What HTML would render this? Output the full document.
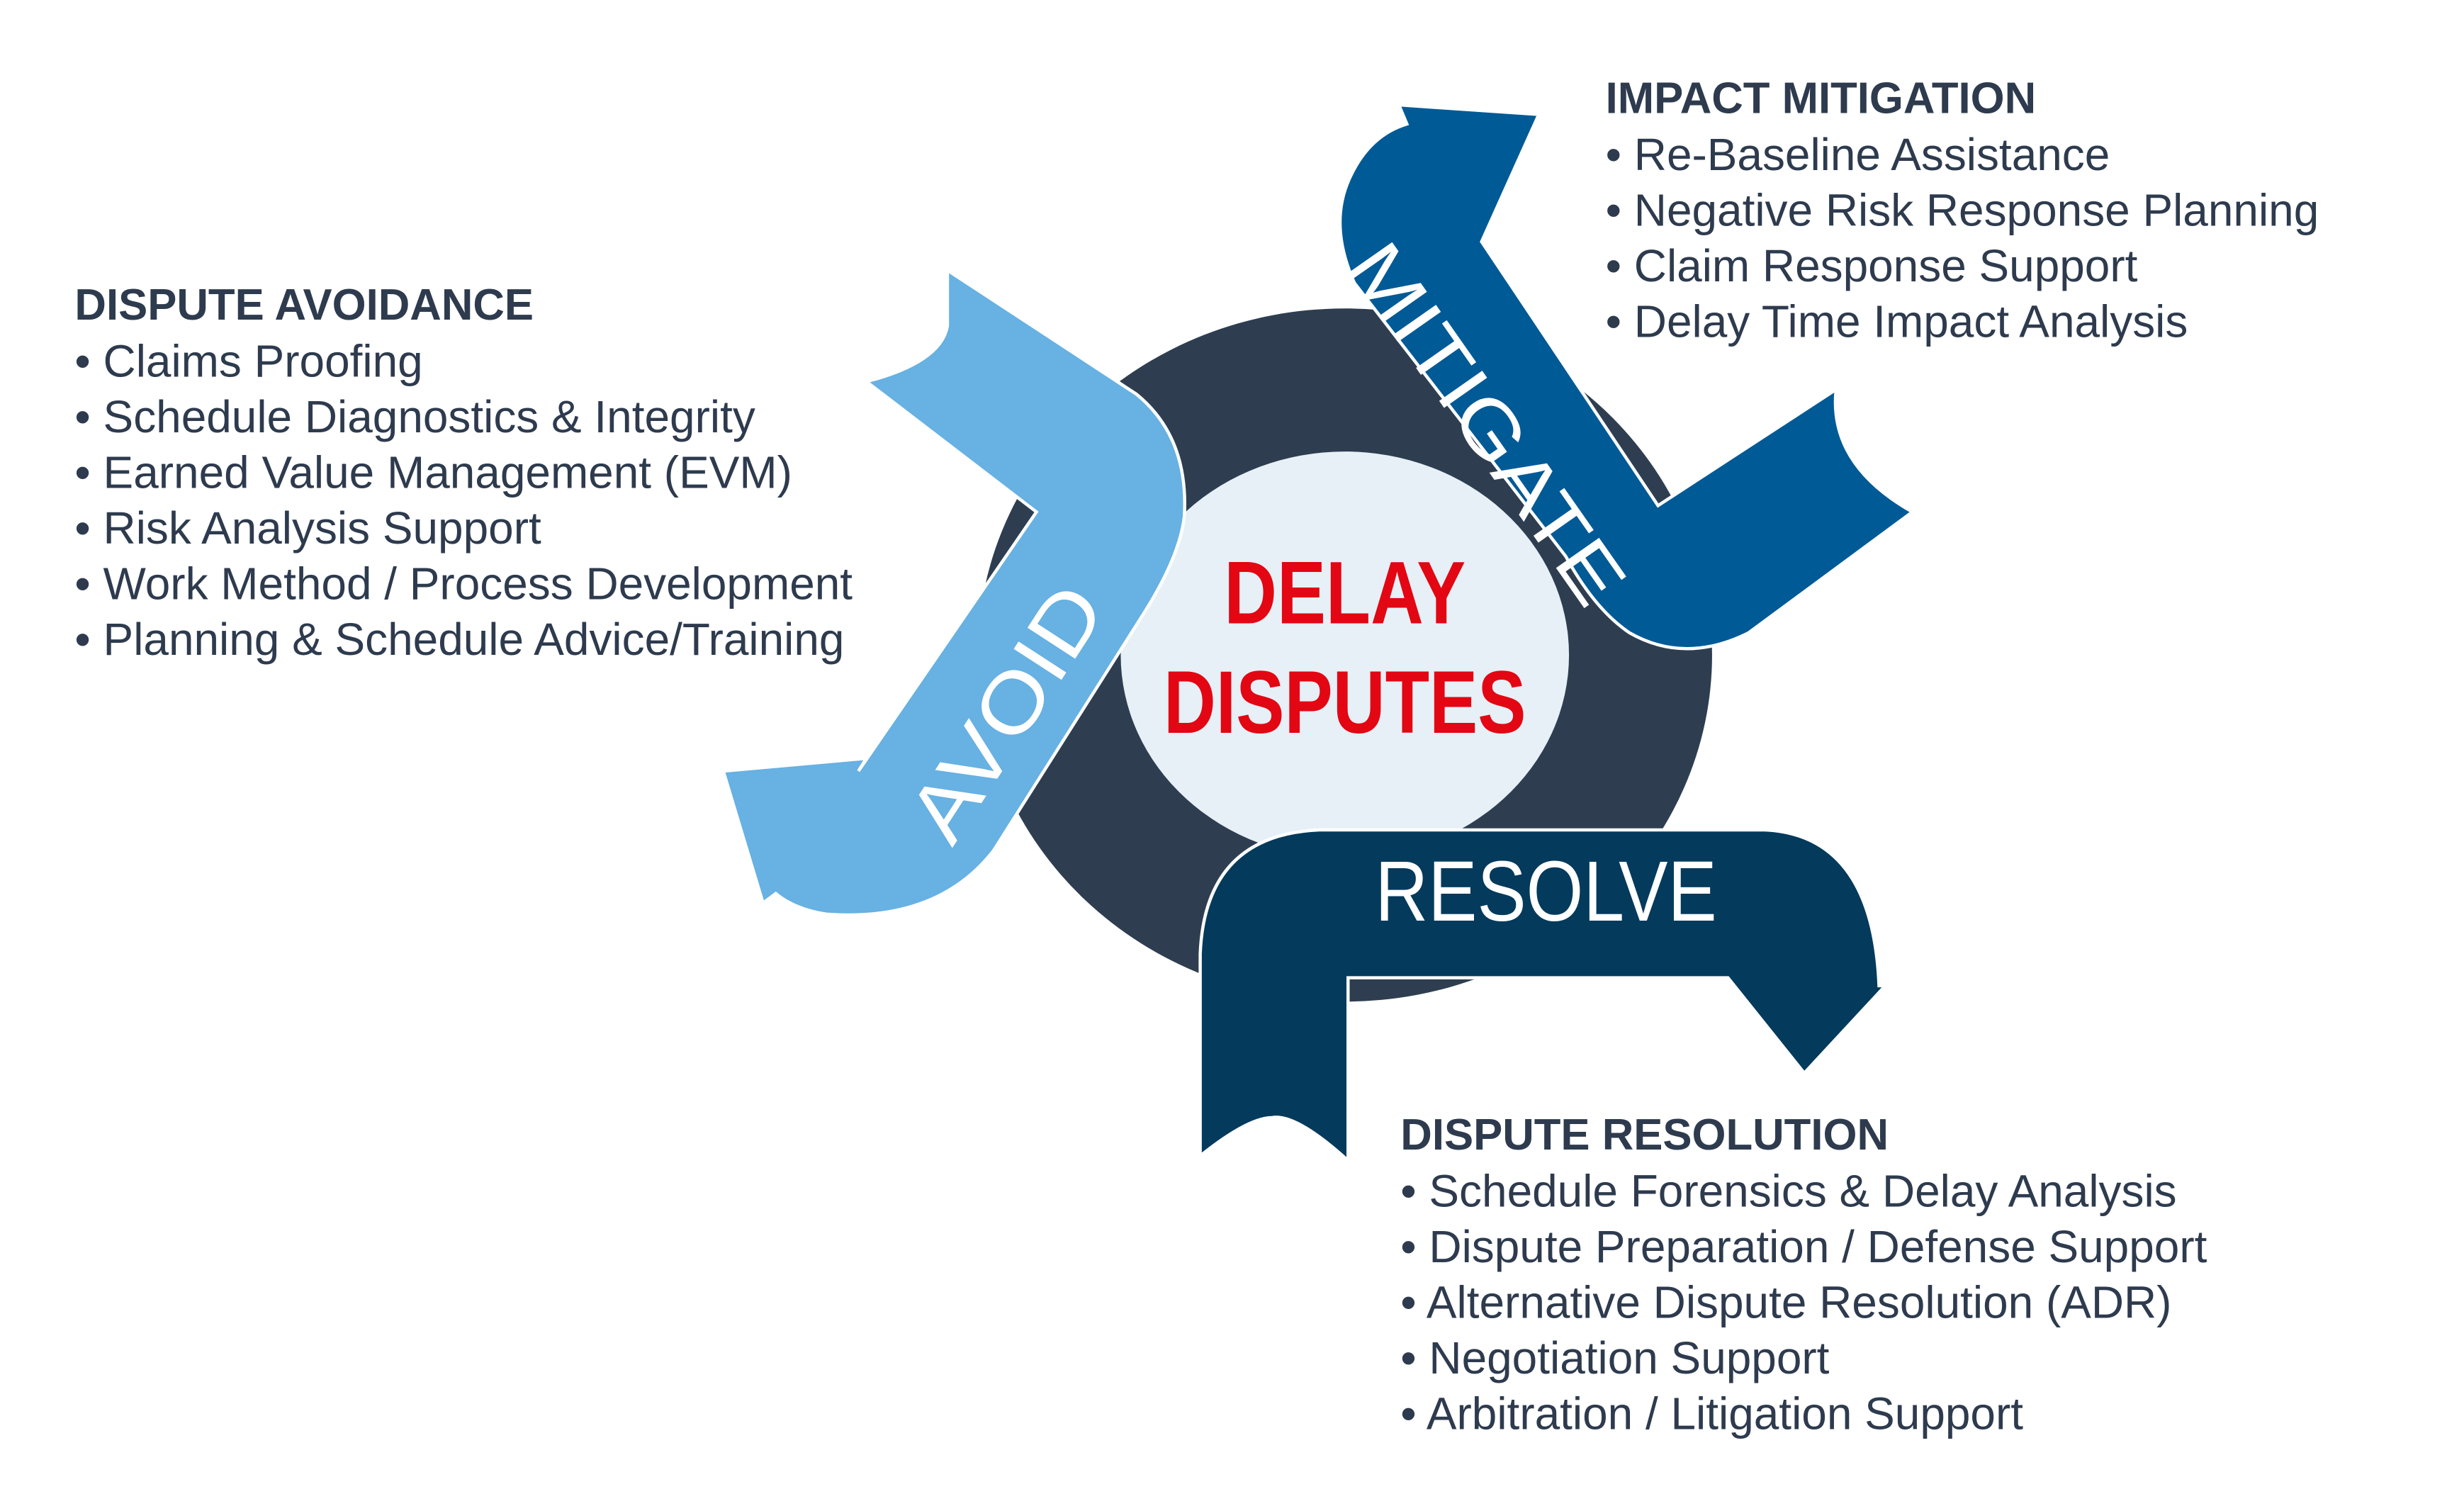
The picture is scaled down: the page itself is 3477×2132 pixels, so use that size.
<!DOCTYPE html>
<html><head><meta charset="utf-8"><style>
html,body{margin:0;padding:0;background:#fff;}
svg{display:block;}
.t{font-family:"Liberation Sans",Arial,sans-serif;fill:#2e3b4e;font-size:28.5px;}
.h{font-family:"Liberation Sans",Arial,sans-serif;fill:#2e3b4e;font-size:27.5px;font-weight:bold;}
.w{font-family:"Liberation Sans",Arial,sans-serif;fill:#fff;}
</style></head><body>
<svg width="3477" height="2132" viewBox="0 0 1550 950.4" preserveAspectRatio="none" xmlns="http://www.w3.org/2000/svg">
<rect width="1550" height="950.4" fill="#fff"/>
<ellipse cx="846" cy="412" rx="231" ry="218" fill="#2e3e50"/>
<ellipse cx="846" cy="412" rx="141" ry="128" fill="#e6f0f6"/>
<text x="770" y="392" textLength="152" lengthAdjust="spacingAndGlyphs" font-family="Liberation Sans,Arial,sans-serif" font-weight="bold" font-size="56" fill="#e30613">DELAY</text>
<text x="732" y="461" textLength="228" lengthAdjust="spacingAndGlyphs" font-family="Liberation Sans,Arial,sans-serif" font-weight="bold" font-size="56" fill="#e30613">DISPUTES</text>

<!-- AVOID -->
<path d="M596,170 L715,248 Q748,275 745,325 Q742,350 720,385 L625,535 Q590,580 520,575 Q500,572 488,562 L480,568 L455,485 L545,477 L540,485 L652,322 L545,240 Q592,228 596,205 Z" fill="#67b1e3" stroke="#fff" stroke-width="2"/>
<text class="w" x="0" y="0" font-size="52" text-anchor="middle" textLength="180" lengthAdjust="spacingAndGlyphs" transform="translate(648,458) rotate(-57)">AVOID</text>

<!-- MITIGATE -->
<path d="M880,66 L968,72 L932,152 L1043,318 L1155,245 Q1150,292 1203,322 L1100,398 Q1060,418 1025,398 Q1003,383 985,350 L852,178 Q835,140 850,110 Q862,85 885,78 Z" fill="#005a96" stroke="#fff" stroke-width="2"/>
<text class="w" x="0" y="0" font-size="48" text-anchor="middle" textLength="265" lengthAdjust="spacingAndGlyphs" transform="translate(922,276) rotate(55)">MITIGATE</text>

<!-- RESOLVE -->
<path d="M755,727 L755,600 Q758,525 830,522 L1110,522 Q1178,525 1182,620 L1186,620 L1135,675 L1087,615 L848,615 L848,730 Q815,700 800,703 Q785,703 755,727 Z" fill="#043a5c" stroke="#fff" stroke-width="2"/>
<text class="w" x="865" y="579" font-size="54" textLength="215" lengthAdjust="spacingAndGlyphs">RESOLVE</text>

<text class="h" x="47" y="201">DISPUTE AVOIDANCE</text>
<text class="t" x="47" y="237">• Claims Proofing</text>
<text class="t" x="47" y="272">• Schedule Diagnostics &amp; Integrity</text>
<text class="t" x="47" y="307">• Earned Value Management (EVM)</text>
<text class="t" x="47" y="342">• Risk Analysis Support</text>
<text class="t" x="47" y="377">• Work Method / Process Development</text>
<text class="t" x="47" y="412">• Planning &amp; Schedule Advice/Training</text>

<text class="h" x="1010" y="71">IMPACT MITIGATION</text>
<text class="t" x="1010" y="107">• Re-Baseline Assistance</text>
<text class="t" x="1010" y="142">• Negative Risk Response Planning</text>
<text class="t" x="1010" y="177">• Claim Response Support</text>
<text class="t" x="1010" y="212">• Delay Time Impact Analysis</text>

<text class="h" x="881" y="723">DISPUTE RESOLUTION</text>
<text class="t" x="881" y="759">• Schedule Forensics &amp;  Delay Analysis</text>
<text class="t" x="881" y="794">• Dispute Preparation / Defense Support</text>
<text class="t" x="881" y="829">• Alternative Dispute Resolution (ADR)</text>
<text class="t" x="881" y="864">• Negotiation Support</text>
<text class="t" x="881" y="899">• Arbitration / Litigation Support</text>
</svg>
</body></html>
